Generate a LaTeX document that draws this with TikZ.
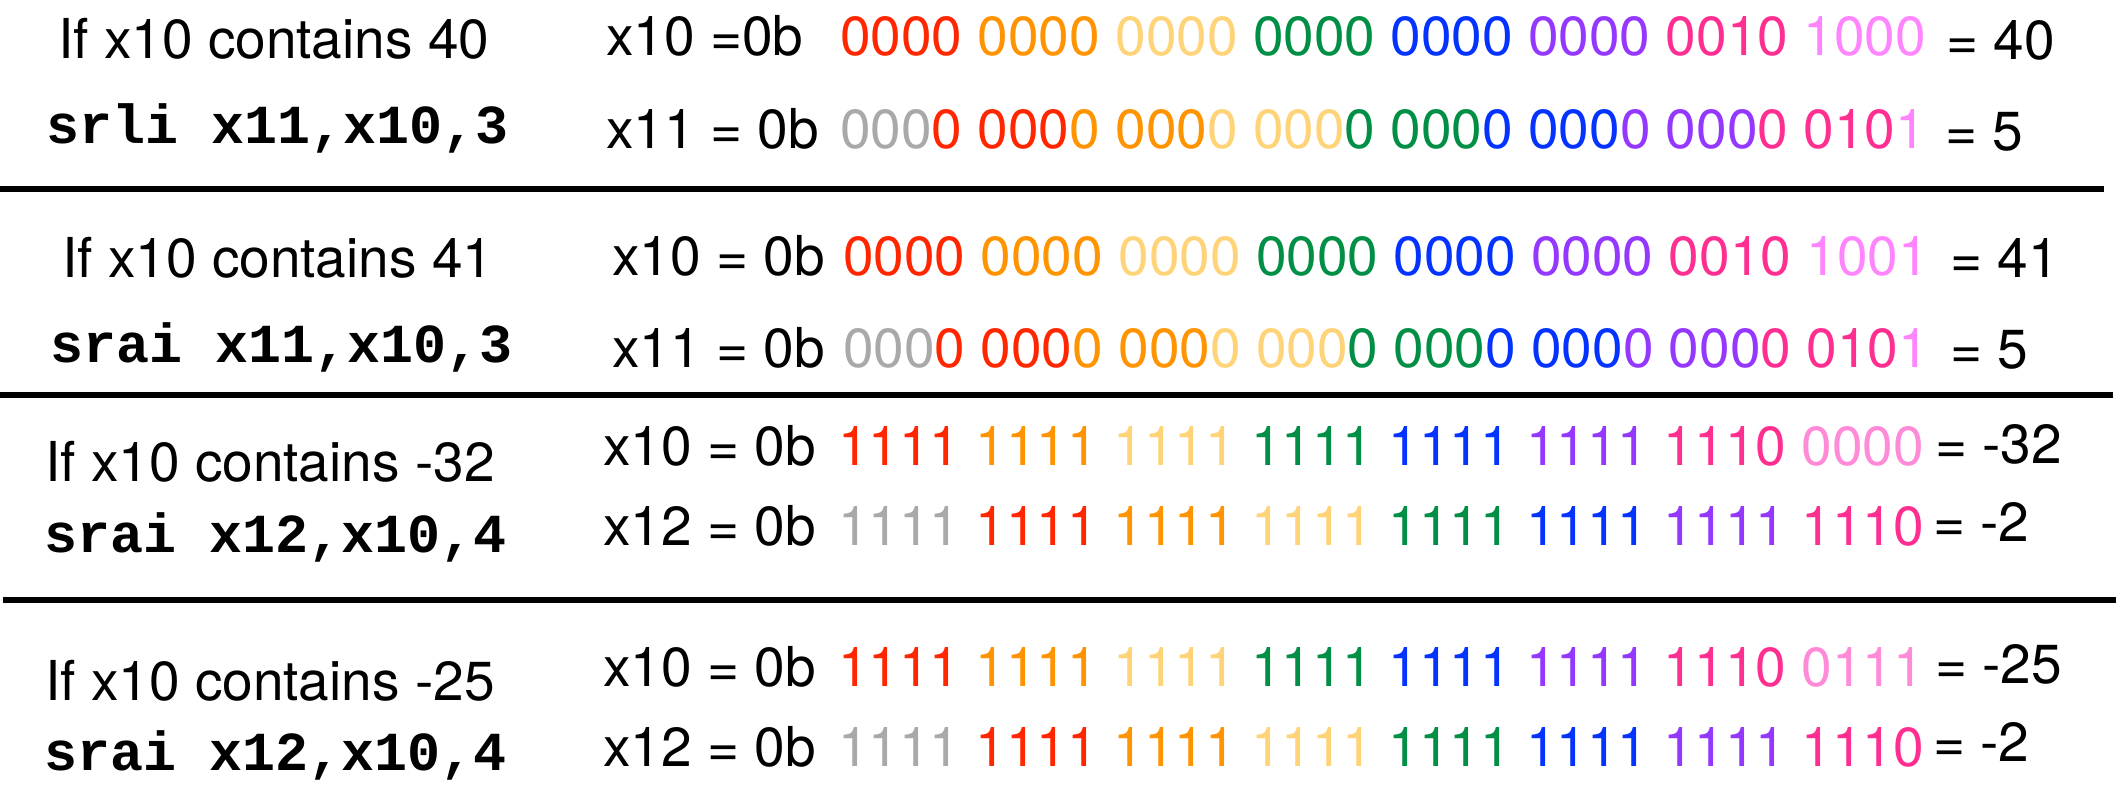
\documentclass[tikz,border=0pt]{standalone}
\usepackage{fontspec}
\setmainfont{TeX Gyre Heros}
\newfontfamily\codefont{Liberation Mono}[BoldFont={Liberation Mono Bold}]
\definecolor{gry}{HTML}{A9A9A9}
\definecolor{rd}{HTML}{FF2600}
\definecolor{org}{HTML}{FF9300}
\definecolor{cnt}{HTML}{FFD479}
\definecolor{grn}{HTML}{008F45}
\definecolor{blu}{HTML}{0433FF}
\definecolor{prp}{HTML}{9437FF}
\definecolor{stw}{HTML}{FF2F92}
\definecolor{bub}{HTML}{FF85FF}
\definecolor{crn}{HTML}{FF8AD8}
\newcommand\cz[2]{{\color{#1}#2}}
\begin{document}
\begin{tikzpicture}[x=1pt,y=-1pt,
  txt/.style={anchor=base west,inner sep=0pt,font=\fontsize{55pt}{60pt}\selectfont},
  code/.style={anchor=base west,inner sep=0pt,font=\fontsize{55pt}{60pt}\selectfont\codefont\bfseries},
  rule/.style={line width=6pt}]
\useasboundingbox[fill=white] (0,0) rectangle (2123,811);
% left column
\node[txt]  (l1) at (58,58)  {If x10 contains 40};
\node[code] (c1) at (46,143) {srli x11,x10,3};
\node[txt]  (l2) at (62,277) {If x10 contains 41};
\node[code] (c2) at (50,362) {srai x11,x10,3};
\node[txt]  (l3) at (45,481) {If x10 contains -32};
\node[code] (c3) at (44,552) {srai x12,x10,4};
\node[txt]  (l4) at (45,700) {If x10 contains -25};
\node[code] (c4) at (44,770) {srai x12,x10,4};
% row 1
\node[txt] (r1a) at (606,55) {x10 =0b};
\node[txt] (d1a) at (840,55) {\cz{rd}{0000} \cz{org}{0000} \cz{cnt}{0000} \cz{grn}{0000} \cz{blu}{0000} \cz{prp}{0000} \cz{stw}{0010} \cz{bub}{1000}};
\node[txt] (v1a) at (1946,59) {= 40};
\node[txt] (r1b) at (606,148) {x11 = 0b};
\node[txt] (d1b) at (840,148) {\cz{gry}{000}\cz{rd}{0} \cz{rd}{000}\cz{org}{0} \cz{org}{000}\cz{cnt}{0} \cz{cnt}{000}\cz{grn}{0} \cz{grn}{000}\cz{blu}{0} \cz{blu}{000}\cz{prp}{0} \cz{prp}{000}\cz{stw}{0} \cz{stw}{010}\cz{bub}{1}};
\node[txt] (v1b) at (1945,150) {= 5};
% row 2
\node[txt] (r2a) at (612,275) {x10 = 0b};
\node[txt] (d2a) at (843,275) {\cz{rd}{0000} \cz{org}{0000} \cz{cnt}{0000} \cz{grn}{0000} \cz{blu}{0000} \cz{prp}{0000} \cz{stw}{0010} \cz{bub}{1001}};
\node[txt] (v2a) at (1950,277) {= 41};
\node[txt] (r2b) at (612,367) {x11 = 0b};
\node[txt] (d2b) at (843,367) {\cz{gry}{000}\cz{rd}{0} \cz{rd}{000}\cz{org}{0} \cz{org}{000}\cz{cnt}{0} \cz{cnt}{000}\cz{grn}{0} \cz{grn}{000}\cz{blu}{0} \cz{blu}{000}\cz{prp}{0} \cz{prp}{000}\cz{stw}{0} \cz{stw}{010}\cz{bub}{1}};
\node[txt] (v2b) at (1950,368) {= 5};
% row 3
\node[txt] (r3a) at (603,465) {x10 = 0b};
\node[txt] (d3a) at (838,465) {\cz{rd}{1111} \cz{org}{1111} \cz{cnt}{1111} \cz{grn}{1111} \cz{blu}{1111} \cz{prp}{1111} \cz{stw}{1110} \cz{crn}{0000}};
\node[txt] (v3a) at (1935,463) {= -32};
\node[txt] (r3b) at (603,545) {x12 = 0b};
\node[txt] (d3b) at (838,545) {\cz{gry}{1111} \cz{rd}{1111} \cz{org}{1111} \cz{cnt}{1111} \cz{grn}{1111} \cz{blu}{1111} \cz{prp}{1111} \cz{stw}{1110}};
\node[txt] (v3b) at (1933,541) {= -2};
% row 4
\node[txt] (r4a) at (603,686) {x10 = 0b};
\node[txt] (d4a) at (838,686) {\cz{rd}{1111} \cz{org}{1111} \cz{cnt}{1111} \cz{grn}{1111} \cz{blu}{1111} \cz{prp}{1111} \cz{stw}{1110} \cz{crn}{0111}};
\node[txt] (v4a) at (1935,683) {= -25};
\node[txt] (r4b) at (603,766) {x12 = 0b};
\node[txt] (d4b) at (838,766) {\cz{gry}{1111} \cz{rd}{1111} \cz{org}{1111} \cz{cnt}{1111} \cz{grn}{1111} \cz{blu}{1111} \cz{prp}{1111} \cz{stw}{1110}};
\node[txt] (v4b) at (1933,761) {= -2};
% rules
\coordinate (h1a) at (0,189);   \coordinate (h1b) at (2104,189);
\coordinate (h2a) at (0,395);   \coordinate (h2b) at (2113,395);
\coordinate (h3a) at (3,600);   \coordinate (h3b) at (2116,600);
\draw[rule] (h1a) -- (h1b);
\draw[rule] (h2a) -- (h2b);
\draw[rule] (h3a) -- (h3b);
\end{tikzpicture}
\end{document}
